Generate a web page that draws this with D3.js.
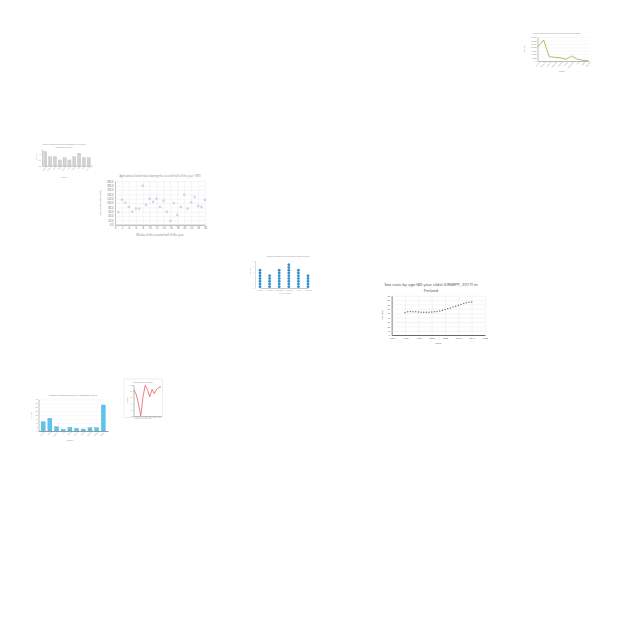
<!DOCTYPE html>
<html><head><meta charset="utf-8">
<script src="https://cdn.jsdelivr.net/npm/d3@7"></script>
<style>html,body{margin:0;padding:0;background:#fff;} svg{display:block;font-family:"Open Sans","DejaVu Sans",sans-serif;}</style>
</head><body><svg id="c" width="640" height="640"></svg>
<script>
// ---------- data ----------
const greenCategories = ["Austria","Belgium","Canada","Denmark","Finland","France","Germany","Italy","Japan","Norway"];
const greenValues = [20900, 30600, 6300, 5400, 4800, 2500, 7300, 2500, 1000, 450];
const greenTicks = [0, 5000, 10000, 15000, 20000, 25000, 30000, 35000];

const grayCategories = ["Algeria","Bolivia","Chad","Egypt","Ghana","India","Kenya","Mali","Peru","Sudan"];
const grayValues = [1.17, 0.75, 0.75, 0.48, 0.67, 0.48, 0.75, 1.04, 0.67, 0.67];
const grayTicks = [0, 0.5, 1];

const agriWeeks = [1,2,3,4,5,6,7,8,9,10,11,12,13,14,15,16,17,18,19,20,21,22,23,24,25,26];
const agriValues = [57,115,103,82,60,74,74,180,92,120,105,120,82,111,60,17,99,45,82,139,74,103,128,86,82,114];
const agriXTicks = [0,2,4,6,8,10,12,14,16,18,20,22,24,26];
const agriYTicks = [0,20,40,60,80,100,120,140,160,180,200];

const dotCategories = ["Monday","Tuesday","Wednesday","Thursday","Friday","Saturday"];
const dotCounts = [7, 5, 7, 9, 7, 5];

const finlandYears = [1990,1991,1992,1993,1994,1995,1996,1997,1998,1999,2000,2001,2002,2003,2004,2005,2006,2007,2008,2009,2010,2011,2012,2013,2014,2015];
const finlandRatio = [51.5,53,54,53.5,53,52.5,52,52,52,52.2,52.5,53,53.8,55,56.5,58.5,60,62,64,66,68,70,72,74,75,75.5];
const finlandXTicks = [1985,1990,1995,2000,2005,2010,2015,2020];
const finlandYTicks = [0,10,20,30,40,50,60,70,80,90];

const blueCategories = ["Aruba","Chile","Cyprus","Fiji","Malta","Nauru","Palau","Samoa","Tonga","World"];
const blueValues = [11.7, 16, 5.4, 2.1, 4.7, 3.4, 2.5, 4.2, 4.2, 32.8];
const blueTicks = [0,5,10,15,20,25,30,35,40];

const redX = [1,2,3,4,5,6,7,8,9,10,11,12,13];
const redValues = [84,69,39,1,63,99,84,62,86,72,86,92,94];
const redXTicks = [2,4,6,8,10,12];
const redYTicks = [0,20,40,60,80,100];

// ---------- helpers ----------
const svg = d3.select("#c");
function styleAxis(g, fs, txt, dom, tick){
  g.attr("font-size", fs).attr("font-family", null);
  g.selectAll("text").attr("fill", txt);
  g.select(".domain").attr("stroke", dom || "none");
  g.selectAll(".tick line").attr("stroke", tick || "none").attr("stroke-width", 0.4);
}
function text(x, y, s, fs, fill, anchor, rot){
  const t = svg.append("text").attr("x", x).attr("y", y).attr("font-size", fs)
    .attr("fill", fill).attr("text-anchor", anchor || "middle").text(s);
  if (rot) t.attr("transform", `rotate(${rot},${x},${y})`);
  return t;
}

// ---------- chart 1: green line ----------
(function(){
  const L=537.5, R=588.5, T=37, B=61;
  const x = d3.scalePoint().domain(greenCategories).range([L+0.5, R]);
  const y = d3.scaleLinear().domain([0,35000]).range([B,T]);
  const gy = svg.append("g").attr("transform",`translate(${L},0)`)
    .call(d3.axisLeft(y).tickValues(greenTicks).tickSize(-(R-L)).tickSizeOuter(0).tickPadding(1).tickFormat(d3.format(",")));
  styleAxis(gy, 1.8, "#888", "#bbb", "#eee");
  const gx = svg.append("g").attr("transform",`translate(0,${B})`)
    .call(d3.axisBottom(x).tickSize(0).tickPadding(1.5));
  styleAxis(gx, 1.8, "#888", "#bbb");
  gx.selectAll("text").attr("text-anchor","end").attr("dy","0.3em")
    .attr("transform","rotate(-50)");
  svg.append("path").datum(greenValues)
    .attr("d", d3.line().x((d,i)=>x(greenCategories[i])).y(d=>y(d)))
    .attr("fill","none").attr("stroke","#8fb544").attr("stroke-width",0.8);
  text(557, 33.5, "Total revenue from taxes in different countries (2006)", 1.9, "#888");
  text(524.5, 49, "Revenue", 1.8, "#888", "middle", -90);
  text(562, 72, "Country", 1.8, "#888");
})();

// ---------- chart 2: gray bars ----------
(function(){
  const L=42, R=92, T=149, B=165.7;
  const x = d3.scaleBand().domain(grayCategories).range([L,R]).padding(0.35);
  const y = d3.scaleLinear().domain([0,1.4]).range([B,T]);
  const gy = svg.append("g").attr("transform",`translate(${L},0)`)
    .call(d3.axisLeft(y).tickValues(grayTicks).tickSize(0).tickPadding(1));
  styleAxis(gy, 1.8, "#999", "#ccc");
  svg.selectAll(".gbar").data(grayValues).enter().append("rect")
    .attr("x",(d,i)=>x(grayCategories[i])).attr("width",x.bandwidth())
    .attr("y",d=>y(d)).attr("height",d=>B-y(d))
    .attr("fill","#d2d2d2").attr("stroke","#b5b5b5").attr("stroke-width",0.3);
  const gx = svg.append("g").attr("transform",`translate(0,${B})`)
    .call(d3.axisBottom(x).tickSize(0).tickPadding(1.2));
  styleAxis(gx, 1.8, "#999", "#bbb");
  gx.selectAll("text").attr("text-anchor","end").attr("dy","0.3em").attr("transform","rotate(-50)");
  text(64, 144.5, "Arable land (hectares per person) of different", 2.1, "#888");
  text(64, 147.8, "countries in 2010", 2.1, "#888");
  text(36.5, 157, "Hectares", 1.8, "#999", "middle", -90);
  text(64, 178, "Country", 1.8, "#999");
})();

// ---------- chart 3: scatter ----------
(function(){
  const L=115, R=205, T=181.3, B=224.7;
  const x = d3.scaleLinear().domain([0,26]).range([L,R]);
  const y = d3.scaleLinear().domain([0,200]).range([B,T]);
  const gy = svg.append("g").attr("transform",`translate(${L},0)`)
    .call(d3.axisLeft(y).tickValues(agriYTicks).tickFormat(d3.format(".1f")).tickSize(-(R-L)).tickSizeOuter(0).tickPadding(1.5));
  styleAxis(gy, 2.6, "#666", "#aaa", "#e6e6e6");
  const gx = svg.append("g").attr("transform",`translate(0,${B})`)
    .call(d3.axisBottom(x).tickValues(agriXTicks).tickSize(-(B-T)).tickSizeOuter(0).tickPadding(2.5));
  styleAxis(gx, 2.8, "#666", "#aaa", "#e6e6e6");
  svg.selectAll(".apt").data(agriValues).enter().append("circle")
    .attr("cx",(d,i)=>x(agriWeeks[i])).attr("cy",d=>y(d)).attr("r",0.9)
    .attr("fill","none").attr("stroke","#8fa9c9").attr("stroke-width",0.5);
  text(160, 177, "Agricultural land index during the second half of the year 1990", 2.8, "#888");
  text(101, 203, "Agricultural land index", 2.4, "#777", "middle", -90);
  text(160, 235.5, "Weeks of the second half of the year", 2.8, "#777");
})();

// ---------- chart 4: dot columns ----------
(function(){
  const L=255, R=315, B=288;
  const x = d3.scalePoint().domain(dotCategories).range([L+5, R-7]);
  const y = d3.scaleLinear().domain([0,10]).range([B, B-27.5]);
  const gy = svg.append("g").attr("transform",`translate(${L},0)`)
    .call(d3.axisLeft(y).ticks(5).tickSize(0).tickPadding(1));
  styleAxis(gy, 1.6, "#aaa", "#ddd");
  const gx = svg.append("g").attr("transform",`translate(0,${B})`)
    .call(d3.axisBottom(x).tickSize(0).tickPadding(1.5));
  styleAxis(gx, 1.6, "#999", "#ccc");
  const dots = [];
  dotCounts.forEach((c,i)=>{ for(let k=0;k<c;k++) dots.push({cat:dotCategories[i], k:k}); });
  svg.selectAll(".dpt").data(dots).enter().append("circle")
    .attr("cx",d=>x(d.cat)).attr("cy",d=>y(d.k+0.5)).attr("r",1.25)
    .attr("fill","#2b8fd3").attr("stroke","#1b6fa8").attr("stroke-width",0.2);
  text(288, 256.5, "Number of visitors during the week in a small museum", 1.7, "#888");
  text(250.5, 271, "Visitors", 1.7, "#888", "middle", -90);
  text(285, 294, "Day of the week", 1.6, "#999");
})();

// ---------- chart 5: Finland ----------
(function(){
  const L=391.7, R=485, T=295.7, B=335;
  const x = d3.scaleLinear().domain([1985,2020]).range([L, 485]);
  const y = d3.scaleLinear().domain([0,90]).range([B,T]);
  const gy = svg.append("g").attr("transform",`translate(${L},0)`)
    .call(d3.axisLeft(y).tickValues(finlandYTicks).tickSize(-(R-L)).tickSizeOuter(0).tickPadding(1.5));
  styleAxis(gy, 2.4, "#555", "#444", "#e3e3e3");
  gy.select(".domain").attr("stroke-width",0.8);
  const gx = svg.append("g").attr("transform",`translate(0,${B})`)
    .call(d3.axisBottom(x).tickValues(finlandXTicks).tickFormat(d3.format("d")).tickSize(-(B-T)).tickSizeOuter(0).tickPadding(2));
  styleAxis(gx, 2.4, "#555", "#444", "#e3e3e3");
  gx.select(".domain").attr("stroke-width",0.8);
  svg.selectAll(".fpt").data(finlandRatio).enter().append("circle")
    .attr("cx",(d,i)=>x(finlandYears[i])).attr("cy",d=>y(d)).attr("r",0.75)
    .attr("fill","#777");
  text(431, 285.5, "Sex ratio by age (80 year olds) (UNWPP, 2017) in", 4.2, "#444");
  text(431, 292, "Finland", 4.2, "#444");
  text(382.5, 315, "Sex ratio", 2.4, "#555", "middle", -90);
  text(438, 344, "Years", 2.4, "#555");
})();

// ---------- chart 6: blue bars ----------
(function(){
  const L=38.5, R=108, T=399.3, B=431;
  const x = d3.scaleBand().domain(blueCategories).range([L,R]).padding(0.4);
  const y = d3.scaleLinear().domain([0,40]).range([B,T]);
  const gy = svg.append("g").attr("transform",`translate(${L},0)`)
    .call(d3.axisLeft(y).tickValues(blueTicks).tickSize(-(R-L)).tickSizeOuter(0).tickPadding(1));
  styleAxis(gy, 1.8, "#888", "#bbb", "#f0f0f0");
  svg.selectAll(".bbar").data(blueValues).enter().append("rect")
    .attr("x",(d,i)=>x(blueCategories[i])).attr("width",x.bandwidth())
    .attr("y",d=>y(d)).attr("height",d=>B-y(d))
    .attr("fill","#5cc3ec").attr("stroke","#3aa9d8").attr("stroke-width",0.3);
  const gx = svg.append("g").attr("transform",`translate(0,${B})`)
    .call(d3.axisBottom(x).tickSize(0).tickPadding(1.3));
  styleAxis(gx, 1.8, "#888", "#999");
  gx.selectAll("text").attr("text-anchor","end").attr("dy","0.3em").attr("transform","rotate(-50)");
  text(73, 396, "Number of tourism arrivals (in thousands) in 2010", 2.1, "#777");
  text(31.5, 415, "Arrivals", 1.8, "#888", "middle", -90);
  text(70, 441, "Country", 1.8, "#888");
})();

// ---------- chart 7: red line ----------
(function(){
  svg.append("rect").attr("x",124).attr("y",379).attr("width",38.5).attr("height",38.5)
    .attr("fill","#fff").attr("stroke","#d4d4d4").attr("stroke-width",0.4);
  const L=133.5, R=161, T=384, B=416;
  const x = d3.scaleLinear().domain([1,13]).range([L+0.5,R]);
  const y = d3.scaleLinear().domain([0,100]).range([B,T+1]);
  const gy = svg.append("g").attr("transform",`translate(${L},0)`)
    .call(d3.axisLeft(y).tickValues(redYTicks).tickSize(0.8).tickPadding(0.8));
  styleAxis(gy, 1.5, "#999", "#bbb", "#bbb");
  const gx = svg.append("g").attr("transform",`translate(0,${B})`)
    .call(d3.axisBottom(x).tickValues(redXTicks).tickSize(0.8).tickPadding(0.5));
  styleAxis(gx, 1.5, "#999", "#bbb", "#bbb");
  svg.append("path").datum(redValues)
    .attr("d", d3.line().x((d,i)=>x(redX[i])).y(d=>y(d)))
    .attr("fill","none").attr("stroke","#e2474b").attr("stroke-width",0.7);
  text(143, 382.8, "Share of sales by month", 1.7, "#777");
  text(127.5, 400, "Share (%)", 1.5, "#999", "middle", -90);
  text(143, 419.2, "Months of the year 2013", 1.5, "#999");
})();
</script></body></html>
